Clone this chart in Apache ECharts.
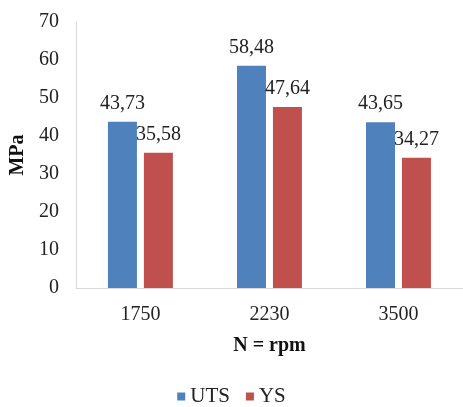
<!DOCTYPE html>
<html>
<head>
<meta charset="utf-8">
<script src="https://cdn.jsdelivr.net/npm/echarts@6/dist/echarts.min.js"></script>
<style>
  html, body { margin: 0; padding: 0; background: #fff; }
  #chart { width: 463px; height: 407px; }
</style>
</head>
<body>
<div id="chart"></div>
<script>
// Rotational speeds (rpm) and measured strengths (MPa)
const speeds = ['1750', '2230', '3500'];
const utsValues = [43.73, 58.48, 43.65];
const ysValues = [35.58, 47.64, 34.27];
const yTicks = { min: 0, max: 70, interval: 10 };

const serif = '"Liberation Serif", "DejaVu Serif", serif';
const fmtComma = v => v.toFixed(2).replace('.', ',');

const chart = echarts.init(document.getElementById('chart'));
const valueLabel = {
  show: true,
  position: 'top',
  distance: 8,
  fontFamily: serif,
  fontSize: 20,
  color: '#222',
  formatter: p => fmtComma(p.value)
};

chart.setOption({
  animation: false,
  grid: { left: 75, right: -1, top: 22, bottom: 119 },
  legend: {
    bottom: -5,
    left: 'center',
    itemWidth: 8,
    itemHeight: 8,
    itemGap: 16,
    icon: 'rect',
    textStyle: { fontFamily: serif, fontSize: 21, color: '#222', padding: [0, 0, 0, 0] },
    data: ['UTS', 'YS']
  },
  xAxis: {
    type: 'category',
    data: speeds,
    name: 'N = rpm',
    nameLocation: 'middle',
    nameGap: 48,
    nameTextStyle: { fontFamily: serif, fontSize: 20, fontWeight: 'bold', color: '#111' },
    axisLine: { lineStyle: { color: '#d9d9d9' } },
    axisTick: { show: false },
    axisLabel: { fontFamily: serif, fontSize: 20, color: '#222', margin: 17 }
  },
  yAxis: {
    type: 'value',
    min: yTicks.min,
    max: yTicks.max,
    interval: yTicks.interval,
    name: 'MPa',
    nameLocation: 'middle',
    nameGap: 46,
    nameTextStyle: { fontFamily: serif, fontSize: 20, fontWeight: 'bold', color: '#111' },
    axisLine: { show: true, lineStyle: { color: '#d9d9d9' } },
    axisTick: { show: false },
    splitLine: { show: false },
    axisLabel: { fontFamily: serif, fontSize: 20, color: '#222', margin: 17 }
  },
  series: [
    {
      name: 'UTS',
      type: 'bar',
      data: utsValues,
      barWidth: 29,
      barGap: '24%',
      itemStyle: { color: '#4F81BD' },
      label: valueLabel
    },
    {
      name: 'YS',
      type: 'bar',
      data: ysValues,
      barWidth: 29,
      itemStyle: { color: '#C0504D' },
      label: valueLabel
    }
  ]
});
</script>
</body>
</html>
